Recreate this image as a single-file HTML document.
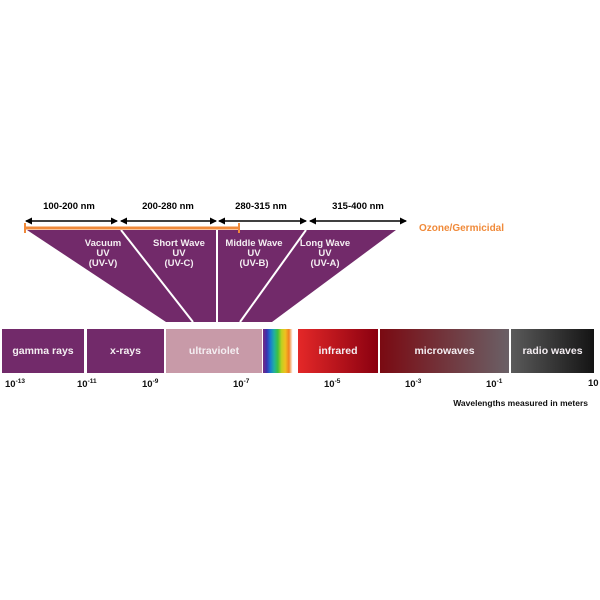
<!DOCTYPE html>
<html><head><style>
body{margin:0;width:600px;height:600px;background:#fff;position:relative;overflow:hidden;font-family:"Liberation Sans",Arial,sans-serif;}
.seg{position:absolute;top:329px;height:44px;color:#f4eef2;font-weight:bold;font-size:10.5px;display:flex;align-items:center;justify-content:center;}
.t{position:absolute;top:378px;font-size:9.5px;font-weight:bold;color:#111;}
.t sup{font-size:6.5px;}
</style></head><body>
<svg width="600" height="600" style="position:absolute;left:0;top:0">
<defs><marker id="a" markerWidth="7" markerHeight="7" refX="6" refY="3.5" orient="auto-start-reverse" markerUnits="userSpaceOnUse"><path d="M0,0L7,3.5L0,7z" fill="#000"/></marker></defs>
<polygon points="27,230 396,230 272,322 166,322" fill="#722a6a"/>
<line x1="121" y1="230" x2="193" y2="322" stroke="#fff" stroke-width="2"/>
<line x1="217" y1="230" x2="217" y2="322" stroke="#fff" stroke-width="2"/>
<line x1="306" y1="230" x2="240" y2="322" stroke="#fff" stroke-width="2"/>
<g stroke="#000" stroke-width="1.5" marker-start="url(#a)" marker-end="url(#a)">
<line x1="26" y1="221" x2="117" y2="221"/><line x1="121" y1="221" x2="216" y2="221"/>
<line x1="219" y1="221" x2="306" y2="221"/><line x1="310" y1="221" x2="406" y2="221"/>
</g>
<line x1="24" y1="228" x2="239" y2="228" stroke="#f08a3a" stroke-width="3"/>
<line x1="25" y1="223" x2="25" y2="233" stroke="#f08a3a" stroke-width="2"/>
<line x1="239" y1="223" x2="239" y2="233" stroke="#f08a3a" stroke-width="2"/>
<g font-family="Liberation Sans,Arial,sans-serif" font-weight="bold" font-size="9.5" text-anchor="middle">
<text x="69" y="209">100-200 nm</text><text x="168" y="209">200-280 nm</text><text x="261" y="209">280-315 nm</text><text x="358" y="209">315-400 nm</text>
<g fill="#f4eef2"><text x="103" y="246">Vacuum</text><text x="103" y="256">UV</text><text x="103" y="266">(UV-V)</text>
<text x="179" y="246">Short Wave</text><text x="179" y="256">UV</text><text x="179" y="266">(UV-C)</text>
<text x="254" y="246">Middle Wave</text><text x="254" y="256">UV</text><text x="254" y="266">(UV-B)</text>
<text x="325" y="246">Long Wave</text><text x="325" y="256">UV</text><text x="325" y="266">(UV-A)</text></g>
<text x="419" y="231" text-anchor="start" fill="#f08a3a" font-size="10">Ozone/Germicidal</text>
</g>
</svg>
<div class="seg" style="left:2px;width:82px;background:#722a6a">gamma rays</div>
<div class="seg" style="left:87px;width:77px;background:#722a6a">x-rays</div>
<div class="seg" style="left:166px;width:96px;background:#c89aa8">ultraviolet</div>
<div class="seg" style="left:263px;width:33px;background:linear-gradient(90deg,#7a2a80,#3a30b0,#1a7ad0,#20b0a0,#40c040,#c0d020,#f0c020,#f08020,#fff 90%,#fff)"></div>
<div class="seg" style="left:298px;width:80px;background:linear-gradient(90deg,#e42828,#8a0010)">infrared</div>
<div class="seg" style="left:380px;width:129px;background:linear-gradient(90deg,#7a0a12,#6a6066)">microwaves</div>
<div class="seg" style="left:511px;width:83px;background:linear-gradient(90deg,#5a5a5a,#141414)">radio waves</div>
<div class="t" style="left:5px">10<sup>-13</sup></div>
<div class="t" style="left:77px">10<sup>-11</sup></div>
<div class="t" style="left:142px">10<sup>-9</sup></div>
<div class="t" style="left:233px">10<sup>-7</sup></div>
<div class="t" style="left:324px">10<sup>-5</sup></div>
<div class="t" style="left:405px">10<sup>-3</sup></div>
<div class="t" style="left:486px">10<sup>-1</sup></div>
<div class="t" style="left:588px">10</div>
<div style="position:absolute;right:12px;top:398px;font-size:8.5px;font-weight:bold;color:#111">Wavelengths measured in meters</div>
</body></html>
